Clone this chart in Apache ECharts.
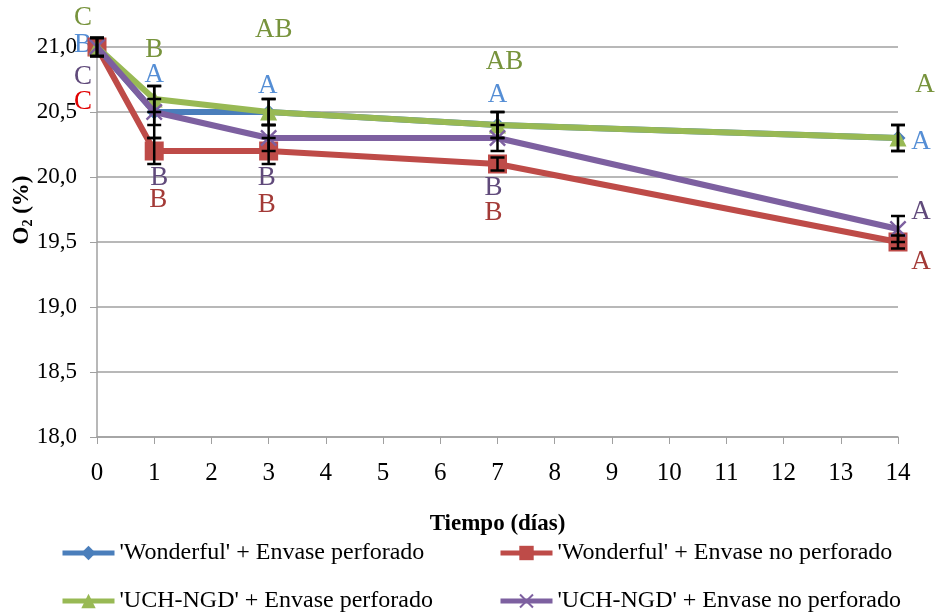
<!DOCTYPE html>
<html>
<head>
<meta charset="utf-8">
<script src="https://cdn.jsdelivr.net/npm/echarts@6/dist/echarts.min.js"></script>
<style>
  html, body { margin: 0; padding: 0; background: #fff; }
  #chart { width: 937px; height: 614px; }
</style>
</head>
<body>
<div id="chart"></div>
<script>
    // datos
    var dias = [0, 1, 3, 7, 14];
    var nombres = ["'Wonderful' + Envase perforado", "'Wonderful' + Envase no perforado",
                   "'UCH-NGD' + Envase perforado", "'UCH-NGD' + Envase no perforado"];
    var wonderfulPerf   = [21.0, 20.5, 20.5, 20.4, 20.3];
    var wonderfulNoPerf = [21.0, 20.2, 20.2, 20.1, 19.5];
    var uchPerf         = [21.0, 20.6, 20.5, 20.4, 20.3];
    var uchNoPerf       = [21.0, 20.5, 20.3, 20.3, 19.6];
    // desviacion (barras de error)
    var errWonderfulPerf   = [0.07, 0.2, 0.1, 0.1, 0.1];
    var errWonderfulNoPerf = [0.07, 0.1, 0.1, 0.05, 0.05];
    var errUchPerf         = [0.07, 0.1, 0.1, 0.1, 0.1];
    var errUchNoPerf       = [0.07, 0.1, 0.1, 0.1, 0.1];
    // letras de significancia
    var letWonderfulPerf   = ['B', 'A', 'A', 'A', 'A'];
    var letWonderfulNoPerf = ['C', 'B', 'B', 'B', 'A'];
    var letUchPerf         = ['C', 'B', 'AB', 'AB', 'A'];
    var letUchNoPerf       = ['C', 'B', 'B', 'B', 'A'];

    // estilos
    var colores = ['#4a7ebb', '#be4b48', '#98b954', '#7d60a0'];
    var colLetras = ['#558ed5', '#a33a37', '#77933c', '#604a7b'];
    var simbolos = ['diamond', 'rect', 'triangle',
        'path://M0,1L1,0L5,4L9,0L10,1L6,5L10,9L9,10L5,6L1,10L0,9L4,5Z'];
    var tamanos = [15, 19, 17, 17];
    var offsets = [
        [[-14, -2], [0, -37], [-1, -26], [0, -30], [23, 4]],
        [[-14, 55], [4, 49], [-2, 54], [-4, 49], [23, 20]],
        [[-14, -29], [0, -49], [5, -82], [7, -63], [27, -53]],
        [[-14, 30], [5, 66], [-2, 40], [-4, 50], [23, -17]]
    ];
    var valores = [wonderfulPerf, wonderfulNoPerf, uchPerf, uchNoPerf];
    var errores = [errWonderfulPerf, errWonderfulNoPerf, errUchPerf, errUchNoPerf];
    var letras = [letWonderfulPerf, letWonderfulNoPerf, letUchPerf, letUchNoPerf];

    var fuente = 'Liberation Serif';
    var series = [];
    for (var s = 0; s < 4; s++) {
        var datos = [];
        for (var i = 0; i < dias.length; i++) {
            var col = colLetras[s];
            if (s === 1 && i === 0) col = '#e00000';
            datos.push({
                value: [dias[i], valores[s][i]],
                label: {
                    show: true, position: 'inside', formatter: letras[s][i],
                    offset: offsets[s][i], color: col,
                    fontFamily: fuente, fontSize: 27
                }
            });
        }
        series.push({
            name: nombres[s],
            type: 'line',
            data: datos,
            symbol: simbolos[s],
            symbolSize: tamanos[s],
            showAllSymbol: true,
            lineStyle: { width: 6, color: colores[s] },
            itemStyle: { color: colores[s] },
            emphasis: { disabled: true },
            z: 2 + s
        });
    }
    // barras de error
    for (var s2 = 0; s2 < 4; s2++) {
        var ed = [];
        for (var j = 0; j < dias.length; j++) {
            ed.push([dias[j], valores[s2][j], errores[s2][j]]);
        }
        series.push({
            type: 'custom',
            data: ed,
            z: 10,
            silent: true,
            renderItem: function (params, api) {
                var x = api.value(0), y = api.value(1), e = api.value(2);
                var top = api.coord([x, y + e]);
                var bot = api.coord([x, y - e]);
                var w = 7;
                var st = { stroke: '#000', lineWidth: 2.5 };
                return {
                    type: 'group',
                    children: [
                        { type: 'line', shape: { x1: top[0], y1: top[1], x2: bot[0], y2: bot[1] }, style: st },
                        { type: 'line', shape: { x1: top[0] - w, y1: top[1], x2: top[0] + w, y2: top[1] }, style: st },
                        { type: 'line', shape: { x1: bot[0] - w, y1: bot[1], x2: bot[0] + w, y2: bot[1] }, style: st }
                    ]
                };
            }
        });
    }

    var leyendaPos = [[55, 536], [493, 536], [55, 584], [493, 584]];
    var leyendas = [];
    for (var k = 0; k < 4; k++) {
        leyendas.push({
            data: [nombres[k]],
            left: leyendaPos[k][0], top: leyendaPos[k][1],
            itemWidth: 52, itemHeight: 18, itemGap: 4,
            selectedMode: false,
            lineStyle: { width: 5 },
            textStyle: { fontFamily: fuente, fontSize: 24, color: '#000' }
        });
    }

    var chart = echarts.init(document.getElementById('chart'));
    chart.setOption({
        animation: false,
        backgroundColor: '#fff',
        legend: leyendas,
        // titulo del eje Y (O2 %), algo por encima del centro como en el original
        graphic: [{
            type: 'text', x: 22, y: 210, rotation: Math.PI / 2,
            style: {
                text: 'O{s|2} (%)', align: 'center', verticalAlign: 'middle',
                font: 'bold 23px "Liberation Serif"', fill: '#000',
                rich: { s: { font: 'bold 14px "Liberation Serif"', fill: '#000', padding: [12, 0, 0, 0] } }
            }
        }],
        grid: { left: 97, right: 39, top: 47, bottom: 177, outerBoundsMode: 'none' },
        xAxis: {
            type: 'value', min: 0, max: 14, interval: 1,
            name: 'Tiempo (días)', nameLocation: 'middle', nameGap: 76,
            nameTextStyle: { fontFamily: fuente, fontSize: 23, fontWeight: 'bold', color: '#000' },
            axisLine: { lineStyle: { color: '#a0a0a0', width: 1.5 } },
            axisTick: { show: true, length: 7, lineStyle: { color: '#a0a0a0' } },
            axisLabel: { fontFamily: fuente, fontSize: 25, color: '#000', margin: 24 },
            splitLine: { show: false }
        },
        yAxis: {
            type: 'value', min: 18, max: 21, interval: 0.5,
            axisLine: { show: true, lineStyle: { color: '#a0a0a0', width: 1.5 } },
            axisTick: { show: true, length: 7, lineStyle: { color: '#a0a0a0' } },
            axisLabel: {
                fontFamily: fuente, fontSize: 23, color: '#000', margin: 20,
                formatter: function (v) { return v.toFixed(1).replace('.', ','); }
            },
            splitLine: { lineStyle: { color: '#a0a0a0', width: 1.5 } }
        },
        series: series
    });
</script>
</body>
</html>
